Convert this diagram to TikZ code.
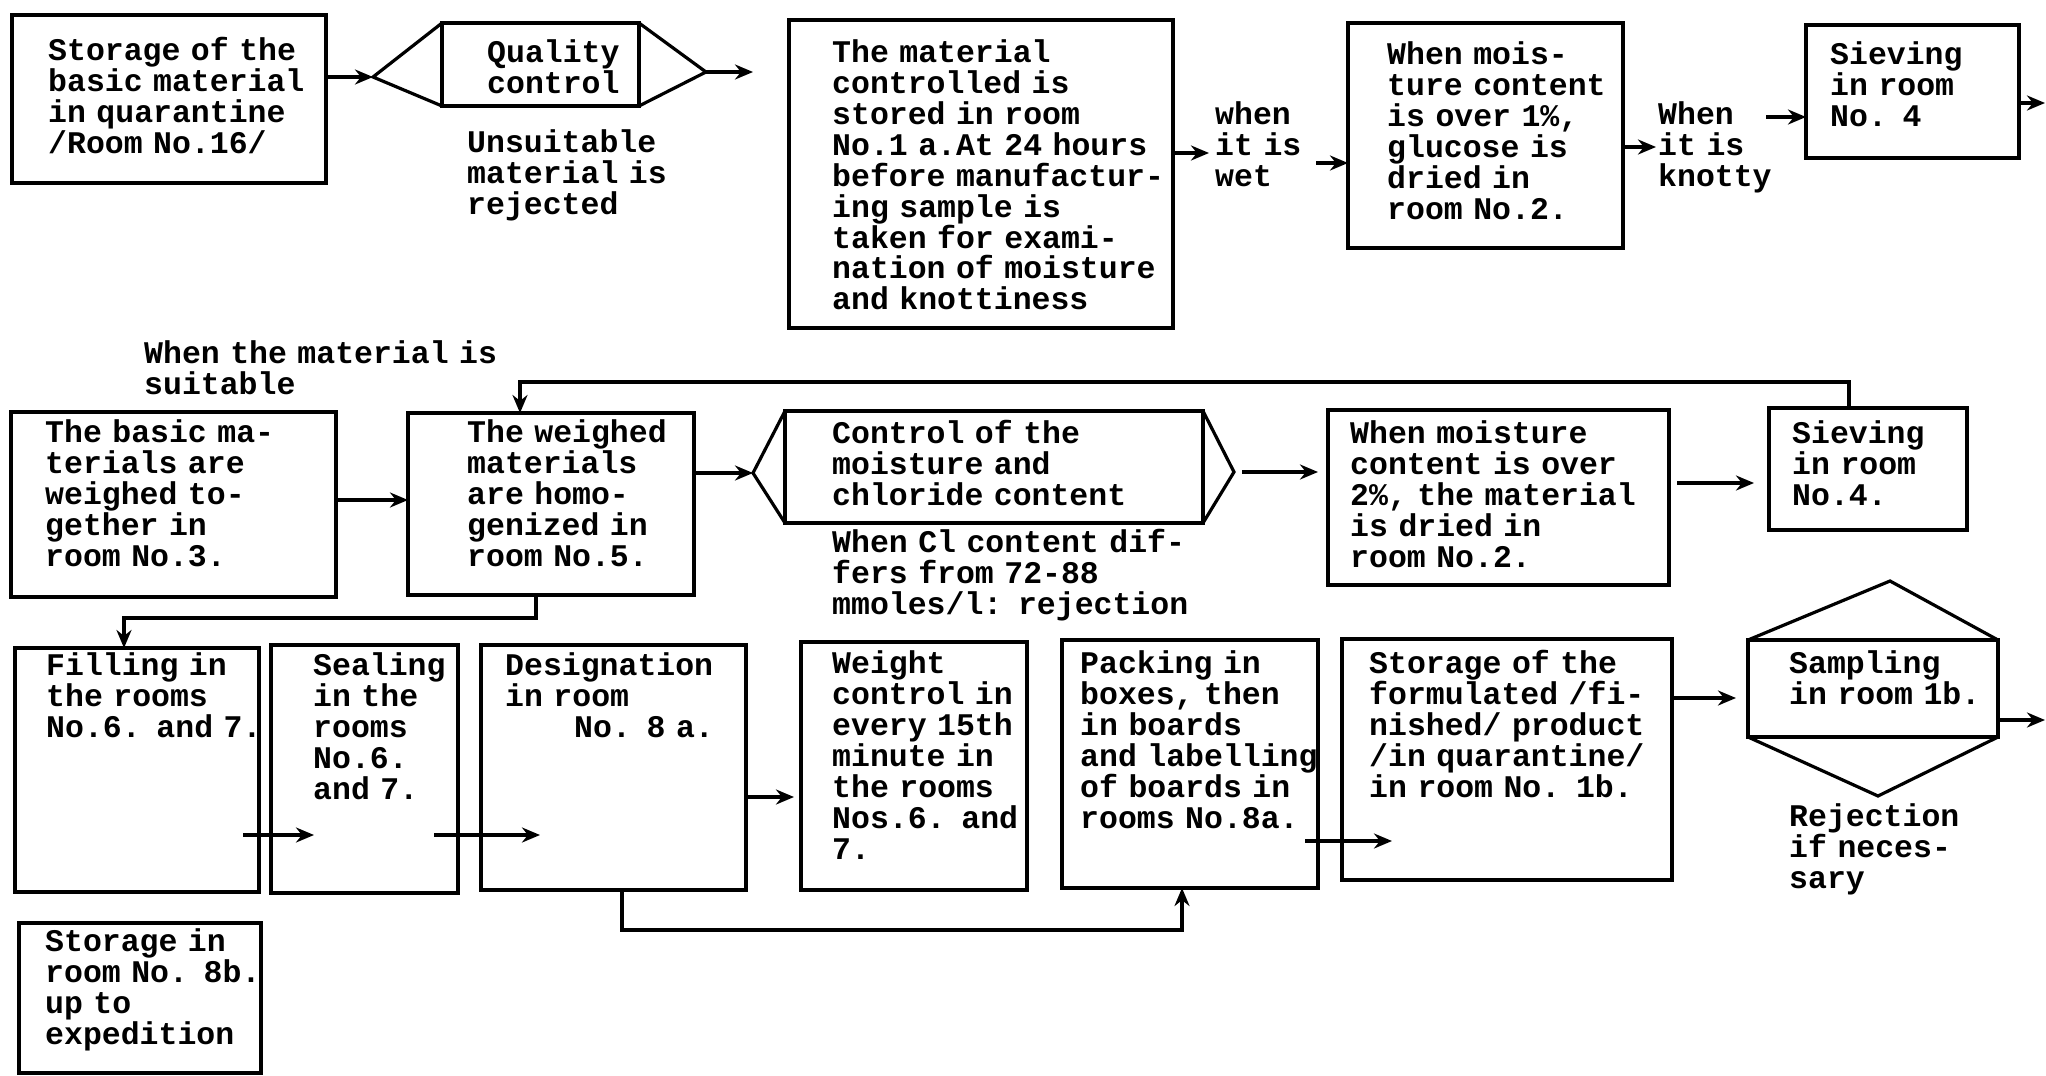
\documentclass[tikz,border=0pt]{standalone}
\usepackage{fontspec}
\newfontfamily\twfont{Liberation Mono}
\usetikzlibrary{arrows.meta,fit}
\tikzset{
  box/.style={draw, line width=3.2pt, inner sep=0pt, outer sep=0pt},
  txt/.style={anchor=base west, inner sep=0pt, text width=430pt, align=left,
    font={\twfont\bfseries\fontsize{31.5pt}{31pt}\selectfont}},
  ln/.style={line width=3.2pt, line join=miter},
  arr/.style={line width=3.2pt, -{Stealth[length=18pt,width=15pt]}},
}
\begin{document}
\begin{tikzpicture}[x=1pt,y=-1pt]
\useasboundingbox[fill=white] (0,0) rectangle (2046,1076);

% ---------- row 1 ----------
\node[box, fit={(12,15) (326,183)}] (b1) {};
\node[txt] (t1) at (48,60) {Storage of the\\basic material\\in quarantine\\/Room No.16/};

\node[box, fit={(442,23) (639,106)}] (hq) {};
\coordinate (hqw) at (373,77);
\coordinate (hqe) at (706,72);
\draw[ln] (hq.north west) -- (hqw) -- (hq.south west);
\draw[ln] (hq.north east) -- (hqe) -- (hq.south east);
\node[txt] (tq) at (487,62) {Quality\\control};
\node[txt] (tu) at (467,152) {Unsuitable\\material is\\rejected};

\node[box, fit={(789,20) (1173,328)}] (mat) {};
\node[txt] (tm) at (832,62) {The material\\controlled is\\stored in room\\No.1 a.At 24 hours\\before manufactur-\\ing sample is\\taken for exami-\\nation of moisture\\and knottiness};
\node[txt] (tw) at (1215,124) {when\\it is\\wet};

\node[box, fit={(1348,23) (1623,248)}] (m1) {};
\node[txt] (tm1) at (1387,64) {When mois-\\ture content\\is over 1\%,\\glucose is\\dried in\\room No.2.};
\node[txt] (tk) at (1658,124) {When\\it is\\knotty};

\node[box, fit={(1806,25) (2019,158)}] (s1) {};
\node[txt] (ts1) at (1830,64) {Sieving\\in room\\No. 4};

\draw[arr] (b1.east |- hqw) -- (hqw);
\draw[arr, shorten >=36pt] (hqe) -- (mat.west |- hqe);
\coordinate (a2e) at (1209,153);
\draw[arr] (mat.east |- a2e) -- (a2e);
\coordinate (a3s) at (1316,163);
\draw[arr] (a3s) -- (m1.west |- a3s);
\coordinate (a4e) at (1656,147);
\draw[arr] (m1.east |- a4e) -- (a4e);
\coordinate (a5s) at (1766,117);
\draw[arr] (a5s) -- (s1.west |- a5s);
\coordinate (a6e) at (2045,103);
\draw[arr] (s1.east |- a6e) -- (a6e);

% ---------- row 2 ----------
\node[txt] (tsu) at (144,363) {When the material is\\suitable};

\node[box, fit={(11,412) (336,597)}] (b3) {};
\node[txt] (tb3) at (45,442) {The basic ma-\\terials are\\weighed to-\\gether in\\room No.3.};

\node[box, fit={(408,413) (694,595)}] (b5) {};
\node[txt] (tb5) at (467,442) {The weighed\\materials\\are homo-\\genized in\\room No.5.};

\node[box, fit={(785,411) (1203,523)}] (h2) {};
\coordinate (h2w) at (753,473);
\coordinate (h2e) at (1234,472);
\draw[ln] (h2.north west) -- (h2w) -- (h2.south west);
\draw[ln] (h2.north east) -- (h2e) -- (h2.south east);
\node[txt] (th2) at (832,443) {Control of the\\moisture and\\chloride content};
\node[txt] (tcl) at (832,552) {When Cl content dif-\\fers from 72-88\\mmoles/l: rejection};

\node[box, fit={(1328,410) (1669,585)}] (m2) {};
\node[txt] (tm2) at (1350,443) {When moisture\\content is over\\2\%, the material\\is dried in\\room No.2.};

\node[box, fit={(1769,408) (1967,530)}] (s2) {};
\node[txt] (ts2) at (1792,443) {Sieving\\in room\\No.4.};

\coordinate (y7) at (370,500);
\draw[arr] (b3.east |- y7) -- (b5.west |- y7);
\draw[arr] (b5.east |- h2w) -- (h2w);
\draw[arr, shorten <=8pt, shorten >=10pt] (h2e) -- (m2.west |- h2e);
\coordinate (y9) at (1700,483);
\draw[arr, shorten <=8pt, shorten >=15pt] (m2.east |- y9) -- (s2.west |- y9);
\coordinate (fb1) at (1849,382);
\coordinate (fb2) at (520,382);
\draw[arr] (s2.north -| fb1) -- (fb1) -- (fb2) -- (b5.north -| fb2);

% ---------- row 3 ----------
\node[box, fit={(15,648) (259,892)}] (fill) {};
\node[txt] (tf) at (46,675) {Filling in\\the rooms\\No.6. and 7.};

\node[box, fit={(271,645) (458,893)}] (seal) {};
\node[txt] (tse) at (313,675) {Sealing\\in the\\rooms\\No.6.\\and 7.};

\node[box, fit={(481,645) (746,890)}] (des) {};
\node[txt] (td) at (505,675) {Designation\\in room\\\hspace*{69pt}No. 8 a.};

\node[box, fit={(801,642) (1027,890)}] (wc) {};
\node[txt] (twc) at (832,673) {Weight\\control in\\every 15th\\minute in\\the rooms\\Nos.6. and\\7.};

\node[box, fit={(1062,640) (1318,888)}] (pack) {};
\node[txt] (tp) at (1080,673) {Packing in\\boxes, then\\in boards\\and labelling\\of boards in\\rooms No.8a.};

\node[box, fit={(1342,639) (1672,880)}] (sf) {};
\node[txt] (tsf) at (1369,673) {Storage of the\\formulated /fi-\\nished/ product\\/in quarantine/\\in room No. 1b.};

\node[box, fit={(1748,640) (1998,737)}] (samp) {};
\coordinate (spt) at (1890,581);
\coordinate (spb) at (1878,796);
\draw[ln] (samp.north west) -- (spt) -- (samp.north east);
\draw[ln] (samp.south west) -- (spb) -- (samp.south east);
\node[txt] (tsa) at (1789,673) {Sampling\\in room 1b.};
\node[txt] (tr) at (1789,826) {Rejection\\if neces-\\sary};

\node[box, fit={(19,923) (261,1073)}] (s8b) {};
\node[txt] (t8b) at (45,951) {Storage in\\room No. 8b.\\up to\\expedition};

\coordinate (d1) at (536,618);
\coordinate (d2) at (124,618);
\draw[arr] (b5.south -| d1) -- (d1) -- (d2) -- (fill.north -| d2);
\coordinate (a10s) at (243,835);
\coordinate (a10e) at (314,835);
\draw[arr] (a10s) -- (a10e);
\coordinate (a11s) at (434,835);
\coordinate (a11e) at (540,835);
\draw[arr] (a11s) -- (a11e);
\coordinate (y12) at (770,797);
\draw[arr, shorten >=7pt] (des.east |- y12) -- (wc.west |- y12);
\coordinate (p1) at (622,930);
\coordinate (p2) at (1182,930);
\draw[arr] (des.south -| p1) -- (p1) -- (p2) -- (pack.south -| p2);
\coordinate (a13s) at (1305,841);
\coordinate (a13e) at (1392,841);
\draw[arr] (a13s) -- (a13e);
\coordinate (y14) at (1700,698);
\draw[arr, shorten >=12pt] (sf.east |- y14) -- (samp.west |- y14);
\coordinate (a15e) at (2045,720);
\draw[arr] (samp.east |- a15e) -- (a15e);
\end{tikzpicture}
\end{document}
